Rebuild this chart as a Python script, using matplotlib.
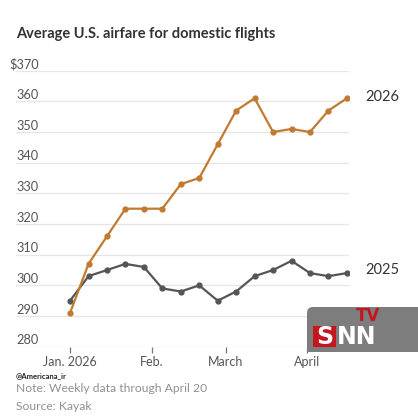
import numpy as np
import pandas as pd
import matplotlib
matplotlib.use("Agg")
import matplotlib.pyplot as plt
import matplotlib.dates as mdates
from matplotlib.patches import FancyBboxPatch, Rectangle

# weekly averages
weeks = pd.date_range("2026-01-01", periods=16, freq="7D")
fare_2026 = [291, 307, 316, 325, 325, 325, 333, 335, 346, 357, 361, 350, 351, 350, 357, 361]
fare_2025 = [295, 303, 305, 307, 306, 299, 298, 300, 295, 298, 303, 305, 308, 304, 303, 304]
y_ticks = [280, 290, 300, 310, 320, 330, 340, 350, 360, 370]
x_tick_dates = pd.to_datetime(["2026-01-01", "2026-02-01", "2026-03-01", "2026-04-01"])
x_tick_labels = ["Jan. 2026", "Feb.", "March", "April"]

orange = "#c27a2f"
dark = "#555555"

plt.rcParams["font.family"] = ["Lato", "DejaVu Sans"]

fig = plt.figure(figsize=(4.18, 4.18), dpi=100)
ax = fig.add_axes([16 / 418, 71.3 / 418, 333 / 418, 276 / 418])

ax.plot(weeks, fare_2025, color=dark, lw=1.6, marker="o", ms=3.5, zorder=3)
ax.plot(weeks, fare_2026, color=orange, lw=1.6, marker="o", ms=3.5, zorder=4)

ax.set_ylim(280, 370)
ax.set_xlim(weeks[0] - pd.Timedelta(days=20.5), weeks[-1] + pd.Timedelta(days=0.8))

for s in ax.spines.values():
    s.set_visible(False)
ax.set_yticks(y_ticks)
ax.tick_params(axis="y", length=0, labelleft=False)
ax.grid(axis="y", color="#e6e6e6", lw=0.9)
ax.set_axisbelow(True)

ax.set_xticks(x_tick_dates)
ax.set_xticklabels(x_tick_labels)
ax.tick_params(axis="x", length=4, width=0.9, color="#777777", pad=3,
               labelsize=9, labelcolor="#555555")

ytr = ax.get_yaxis_transform()
for v in y_ticks:
    lab = "$" + str(v) if v == 370 else str(v)
    ax.text(0.069, v + 0.8, lab, transform=ytr, ha="right", va="baseline",
            fontsize=9.2, color="#555555")

ax.text(1.048, 361.4, "2026", transform=ytr, ha="left", va="center",
        fontsize=10.5, color="#333333", clip_on=False)
ax.text(1.048, 304.9, "2025", transform=ytr, ha="left", va="center",
        fontsize=10.5, color="#333333", clip_on=False)

fig.text(16 / 418, 1 - 34 / 418, "Average U.S. airfare for domestic flights",
         ha="left", va="center", fontsize=10.5, fontweight="bold", color="#333333")
fig.text(16 / 418, 1 - 376 / 418, "@Americana_ir", ha="left", va="center",
         fontsize=5.5, fontweight="bold", color="#222222")
fig.text(16 / 418, 1 - 389 / 418, "Note: Weekly data through April 20",
         ha="left", va="center", fontsize=8.7, color="#909090")
fig.text(16 / 418, 1 - 406 / 418, "Source: Kayak",
         ha="left", va="center", fontsize=8.7, color="#909090")

# watermark logo
lg = fig.add_axes([307 / 418, 66 / 418, 111 / 418, 45 / 418])
lg.set_xlim(0, 111)
lg.set_ylim(0, 45)
lg.axis("off")
lg.add_patch(FancyBboxPatch((0, -10), 130, 55, boxstyle="round,pad=0,rounding_size=6",
                            fc="#7d7d7d", ec="none", clip_on=True))
lg.add_patch(Rectangle((6, 5), 23, 21, fc="#c4161c", ec="none"))
lg.text(17.5, 15.5, "S", ha="center", va="center", fontsize=17, fontweight="bold",
        color="white", family="DejaVu Sans")
lg.text(50, 15.5, "NN", ha="center", va="center", fontsize=17, fontweight="bold",
        color="white", family="DejaVu Sans")
lg.text(61.5, 36, "TV", ha="center", va="center", fontsize=12, fontweight="bold",
        color="#c4161c", family="DejaVu Sans")

fig.savefig("out.png", dpi=100, facecolor="white")
